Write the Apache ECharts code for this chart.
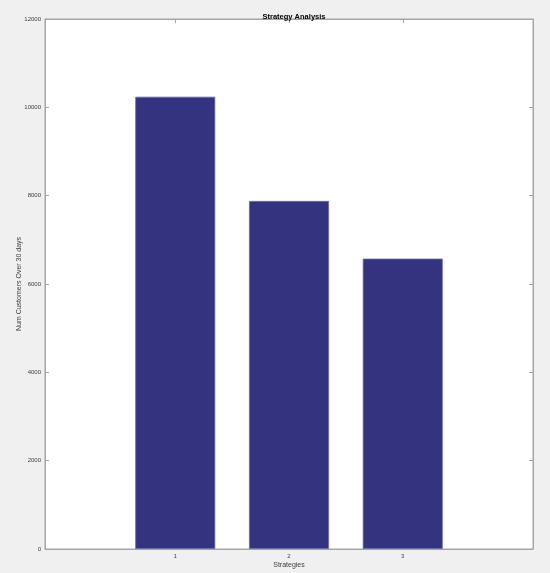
<!DOCTYPE html>
<html><head><meta charset="utf-8">
<script src="https://cdn.jsdelivr.net/npm/echarts@6/dist/echarts.min.js"></script>
<style>html,body{margin:0;padding:0;background:#f0f0f0}#c{width:550px;height:573px}</style>
</head><body><div id="c"></div>
<script>
const strategies = [1, 2, 3];
const customers = [10240, 7880, 6575];
const yTicks = [0, 2000, 4000, 6000, 8000, 10000, 12000];

const chart = echarts.init(document.getElementById('c'));
const axisCol = '#a6a6a6';
const txtCol = '#404040';
const font = 'Liberation Sans, Arial, sans-serif';
chart.setOption({
  backgroundColor: '#f0f0f0',
  animation: false,
  title: {
    text: 'Strategy Analysis', left: 289, top: 8, textAlign: 'center',
    textStyle: {fontSize: 7.5, fontWeight: 'bold', color: '#000', fontFamily: font}
  },
  grid: {left: 45, right: 17, top: 19, bottom: 24, outerBoundsMode: 'none', containLabel: false,
    show: true, backgroundColor: '#fff', borderColor: axisCol, borderWidth: 1},
  xAxis: [{
    type: 'value', min: -0.145, max: 4.145, position: 'bottom',
    name: 'Strategies', nameLocation: 'middle', nameGap: 13, nameMoveOverlap: false,
    nameTextStyle: {fontSize: 7, color: txtCol, fontFamily: font},
    axisLine: {show: true, onZero: false, lineStyle: {color: axisCol}},
    axisTick: {show: true, inside: true, length: 4, customValues: strategies, lineStyle: {color: axisCol}},
    axisLabel: {customValues: strategies, fontSize: 6, color: txtCol, margin: 4, fontFamily: font},
    splitLine: {show: false}
  }, {
    type: 'value', min: -0.145, max: 4.145, position: 'top',
    axisLine: {show: true, onZero: false, lineStyle: {color: axisCol}},
    axisTick: {show: true, inside: true, length: 4, customValues: strategies, lineStyle: {color: axisCol}},
    axisLabel: {show: false}, splitLine: {show: false}
  }],
  yAxis: [{
    type: 'value', min: 0, max: 12000, interval: 2000, position: 'left',
    name: 'Num Customers Over 30 days', nameLocation: 'middle', nameGap: 22, nameRotate: 90, nameMoveOverlap: false,
    nameTextStyle: {fontSize: 7, color: txtCol, fontFamily: font},
    axisLine: {show: true, onZero: false, lineStyle: {color: axisCol}},
    axisTick: {show: true, inside: true, length: 4, customValues: yTicks, lineStyle: {color: axisCol}},
    axisLabel: {customValues: yTicks, formatter: v => String(v), fontSize: 6, color: txtCol, margin: 4, fontFamily: font},
    splitLine: {show: false}
  }, {
    type: 'value', min: 0, max: 12000, interval: 2000, position: 'right',
    axisLine: {show: true, onZero: false, lineStyle: {color: axisCol}},
    axisTick: {show: true, inside: true, length: 4, customValues: yTicks, lineStyle: {color: axisCol}},
    axisLabel: {show: false}, splitLine: {show: false}
  }],
  series: [{
    type: 'bar', xAxisIndex: 0, yAxisIndex: 0,
    data: strategies.map((s, i) => [s, customers[i]]),
    barWidth: 80,
    itemStyle: {color: '#333380', borderColor: '#6a6aa8', borderWidth: 0.8}
  }]
});
</script></body></html>
